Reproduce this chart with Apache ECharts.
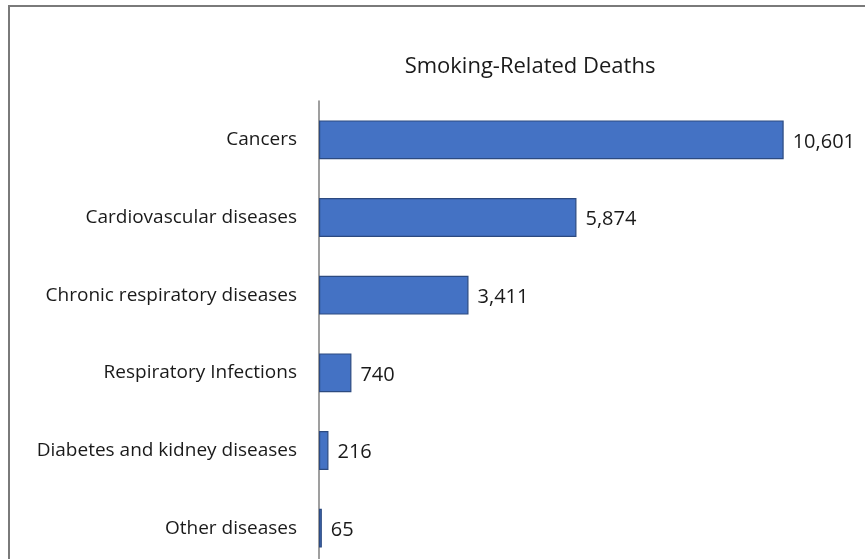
<!DOCTYPE html>
<html><head><meta charset="utf-8">
<script src="https://cdn.jsdelivr.net/npm/echarts@6/dist/echarts.min.js"></script>
<style>html,body{margin:0;padding:0;background:#fff}#c{width:865px;height:559px}</style>
</head><body><div id="c"></div>
<script>
var categories = ["Cancers","Cardiovascular diseases","Chronic respiratory diseases","Respiratory Infections","Diabetes and kidney diseases","Other diseases"];
var deaths = [10601, 5874, 3411, 740, 216, 65];
var titleText = "Smoking-Related Deaths";

var chart = echarts.init(document.getElementById('c'));
var F = '"Open Sans", sans-serif';
chart.setOption({
  animation: false,
  backgroundColor: '#fff',
  title: { text: titleText, left: 525, top: 51, textAlign: 'center',
    textStyle: { fontFamily: F, fontSize: 22, fontWeight: 'normal', color: '#1a1a1a' } },
  graphic: [{ type: 'rect', shape: { x: 9, y: 6, width: 900, height: 600 },
    style: { fill: 'none', stroke: '#7a7a7a', lineWidth: 2 }, silent: true }],
  grid: { left: 319, top: 101, width: 526, height: 466, containLabel: false, outerBoundsMode: 'none' },
  xAxis: { type: 'value', min: 0, max: 12000, show: false },
  yAxis: { type: 'category', data: categories, inverse: true,
    axisLine: { show: true, lineStyle: { color: '#7f7f7f', width: 1.5 } },
    axisTick: { show: false },
    axisLabel: { fontFamily: F, fontSize: 19, color: '#1a1a1a', margin: 22, padding: [3, 0, 0, 0] } },
  series: [{ type: 'bar', data: deaths, barCategoryGap: '50%',
    itemStyle: { color: '#4472C4', borderColor: '#2c4a80', borderWidth: 1.2 },
    label: { show: true, position: 'right', distance: 9, fontFamily: F, fontSize: 20, color: '#1a1a1a',
      offset: [0, 2],
      formatter: function(p){ return p.value.toLocaleString('en-US'); } } }]
});
</script></body></html>
